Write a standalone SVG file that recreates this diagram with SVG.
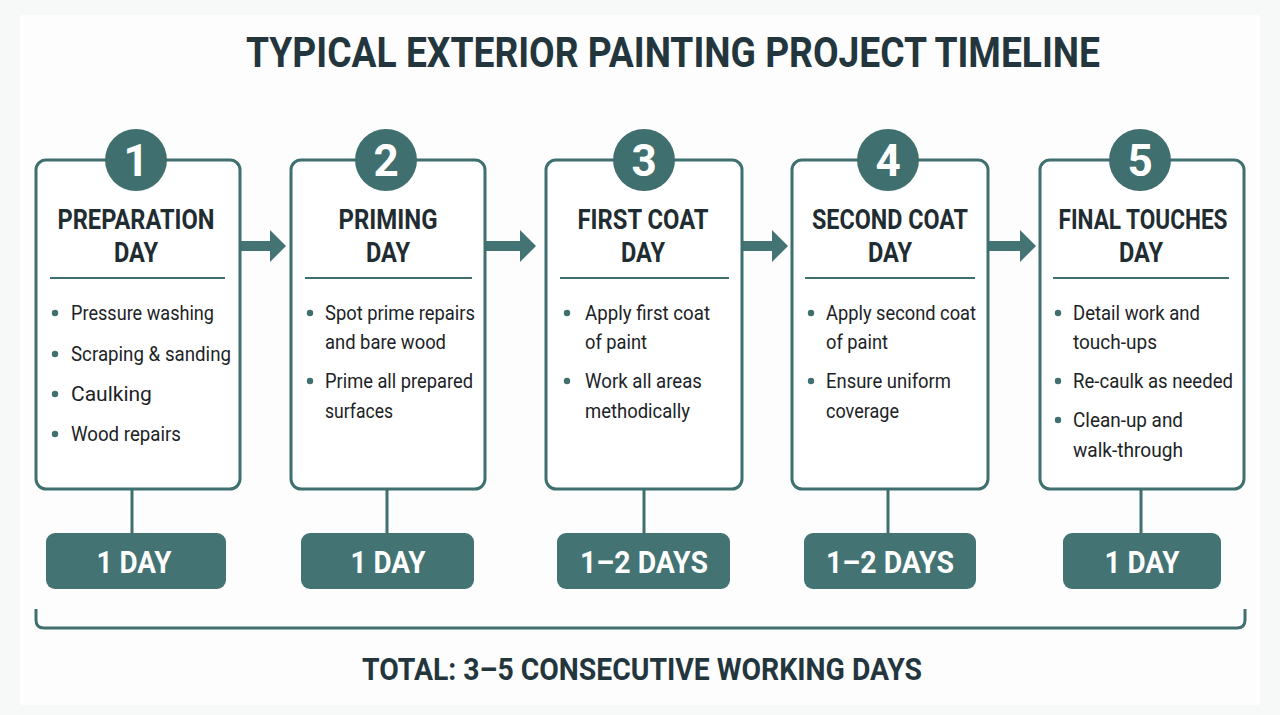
<svg xmlns="http://www.w3.org/2000/svg" width="1280" height="715" viewBox="0 0 1280 715">
<style>
.box{fill:#ffffff;stroke:#3f6f6e;stroke-width:3}
.circ{fill:#3f6f6e}
.num{font-family:Roboto,"Liberation Sans",sans-serif;font-weight:700;font-size:44px;fill:#ffffff;text-anchor:middle}
.ttl{font-family:Roboto,"Liberation Sans",sans-serif;font-weight:700;font-size:28px;fill:#1f2c31;text-anchor:middle}
.div{stroke:#3f6f6e;stroke-width:2}
.dot{fill:#3f6f6e}
.bul{font-family:Roboto,"Liberation Sans",sans-serif;font-size:21px;fill:#1c2326}
.pill{fill:#437372}
.ptx{font-family:Roboto,"Liberation Sans",sans-serif;font-weight:700;font-size:31px;fill:#ffffff;text-anchor:middle}
.con{stroke:#3f6f6e;stroke-width:3;fill:none}
.arr{fill:#437372}
.head{font-family:Roboto,"Liberation Sans",sans-serif;font-weight:700;fill:#24363d;text-anchor:middle}
</style>
<rect width="1280" height="715" fill="#f7f8f8"/>
<rect x="20" y="15" width="1240" height="690" fill="#fdfdfd"/>
<text class="head" x="673" y="67" font-size="42" textLength="854" lengthAdjust="spacingAndGlyphs">TYPICAL EXTERIOR PAINTING PROJECT TIMELINE</text>

<g id="connectors">
  <path class="arr" d="M240 241 H270 V230 L286 246 L270 262 V251 H240 Z"/>
  <path class="arr" d="M486 241 H520 V230 L536 246 L520 262 V251 H486 Z"/>
  <path class="arr" d="M742 241 H772 V230 L788 246 L772 262 V251 H742 Z"/>
  <path class="arr" d="M989 241 H1020 V230 L1036 246 L1020 262 V251 H989 Z"/>
  <line class="con" x1="132" y1="489" x2="132" y2="533"/>
  <line class="con" x1="387" y1="489" x2="387" y2="533"/>
  <line class="con" x1="644" y1="489" x2="644" y2="533"/>
  <line class="con" x1="888" y1="489" x2="888" y2="533"/>
  <line class="con" x1="1141" y1="489" x2="1141" y2="533"/>
  <path class="con" d="M36 609 V620 Q36 628 44 628 H1237 Q1245 628 1245 620 V609"/>
</g>

<g id="step1">
  <rect class="box" x="36" y="160" width="204" height="329" rx="10"/>
  <circle class="circ" cx="136" cy="160" r="31"/>
  <text class="num" x="136" y="176">1</text>
  <text class="ttl" x="136" y="229" textLength="157" lengthAdjust="spacingAndGlyphs">PREPARATION</text>
  <text class="ttl" x="136" y="262" textLength="44" lengthAdjust="spacingAndGlyphs">DAY</text>
  <line class="div" x1="50" y1="278" x2="225" y2="278"/>
  <circle class="dot" cx="55" cy="313" r="3.2"/>
  <text class="bul" x="71" y="320" textLength="143" lengthAdjust="spacingAndGlyphs">Pressure washing</text>
  <circle class="dot" cx="55" cy="354" r="3.2"/>
  <text class="bul" x="71" y="361" textLength="160" lengthAdjust="spacingAndGlyphs">Scraping &amp; sanding</text>
  <circle class="dot" cx="55" cy="394" r="3.2"/>
  <text class="bul" x="71" y="401">Caulking</text>
  <circle class="dot" cx="55" cy="434" r="3.2"/>
  <text class="bul" x="71" y="441" textLength="110" lengthAdjust="spacingAndGlyphs">Wood repairs</text>
  <rect class="pill" x="46" y="533" width="180" height="56" rx="9"/>
  <text class="ptx" x="134" y="573" textLength="75" lengthAdjust="spacingAndGlyphs">1 DAY</text>
</g>

<g id="step2">
  <rect class="box" x="291" y="160" width="194" height="329" rx="10"/>
  <circle class="circ" cx="386" cy="160" r="31"/>
  <text class="num" x="386" y="176">2</text>
  <text class="ttl" x="388" y="229" textLength="99" lengthAdjust="spacingAndGlyphs">PRIMING</text>
  <text class="ttl" x="388" y="262" textLength="44" lengthAdjust="spacingAndGlyphs">DAY</text>
  <line class="div" x1="305" y1="278" x2="472" y2="278"/>
  <circle class="dot" cx="310" cy="313" r="3.2"/>
  <text class="bul" x="325" y="320" textLength="150" lengthAdjust="spacingAndGlyphs">Spot prime repairs</text>
  <text class="bul" x="325" y="349" textLength="121" lengthAdjust="spacingAndGlyphs">and bare wood</text>
  <circle class="dot" cx="310" cy="381" r="3.2"/>
  <text class="bul" x="325" y="388" textLength="148" lengthAdjust="spacingAndGlyphs">Prime all prepared</text>
  <text class="bul" x="325" y="418" textLength="68" lengthAdjust="spacingAndGlyphs">surfaces</text>
  <rect class="pill" x="301" y="533" width="173" height="56" rx="9"/>
  <text class="ptx" x="388" y="573" textLength="75" lengthAdjust="spacingAndGlyphs">1 DAY</text>
</g>

<g id="step3">
  <rect class="box" x="546" y="160" width="196" height="329" rx="10"/>
  <circle class="circ" cx="644" cy="160" r="31"/>
  <text class="num" x="644" y="176">3</text>
  <text class="ttl" x="643" y="229" textLength="131" lengthAdjust="spacingAndGlyphs">FIRST COAT</text>
  <text class="ttl" x="643" y="262" textLength="44" lengthAdjust="spacingAndGlyphs">DAY</text>
  <line class="div" x1="560" y1="278" x2="729" y2="278"/>
  <circle class="dot" cx="567" cy="313" r="3.2"/>
  <text class="bul" x="585" y="320" textLength="125" lengthAdjust="spacingAndGlyphs">Apply first coat</text>
  <text class="bul" x="585" y="349" textLength="62" lengthAdjust="spacingAndGlyphs">of paint</text>
  <circle class="dot" cx="567" cy="381" r="3.2"/>
  <text class="bul" x="585" y="388" textLength="117" lengthAdjust="spacingAndGlyphs">Work all areas</text>
  <text class="bul" x="585" y="418" textLength="105" lengthAdjust="spacingAndGlyphs">methodically</text>
  <rect class="pill" x="557" y="533" width="173" height="56" rx="9"/>
  <text class="ptx" x="644" y="573" textLength="128" lengthAdjust="spacingAndGlyphs">1–2 DAYS</text>
</g>

<g id="step4">
  <rect class="box" x="792" y="160" width="196" height="329" rx="10"/>
  <circle class="circ" cx="888" cy="160" r="31"/>
  <text class="num" x="888" y="176">4</text>
  <text class="ttl" x="890" y="229" textLength="156" lengthAdjust="spacingAndGlyphs">SECOND COAT</text>
  <text class="ttl" x="890" y="262" textLength="44" lengthAdjust="spacingAndGlyphs">DAY</text>
  <line class="div" x1="805" y1="278" x2="975" y2="278"/>
  <circle class="dot" cx="811" cy="313" r="3.2"/>
  <text class="bul" x="826" y="320" textLength="150" lengthAdjust="spacingAndGlyphs">Apply second coat</text>
  <text class="bul" x="826" y="349" textLength="62" lengthAdjust="spacingAndGlyphs">of paint</text>
  <circle class="dot" cx="811" cy="381" r="3.2"/>
  <text class="bul" x="826" y="388" textLength="125" lengthAdjust="spacingAndGlyphs">Ensure uniform</text>
  <text class="bul" x="826" y="418" textLength="73" lengthAdjust="spacingAndGlyphs">coverage</text>
  <rect class="pill" x="804" y="533" width="172" height="56" rx="9"/>
  <text class="ptx" x="890" y="573" textLength="128" lengthAdjust="spacingAndGlyphs">1–2 DAYS</text>
</g>

<g id="step5">
  <rect class="box" x="1040" y="160" width="204" height="329" rx="10"/>
  <circle class="circ" cx="1140" cy="160" r="31"/>
  <text class="num" x="1140" y="176">5</text>
  <text class="ttl" x="1143" y="229" textLength="169" lengthAdjust="spacingAndGlyphs">FINAL TOUCHES</text>
  <text class="ttl" x="1141" y="262" textLength="44" lengthAdjust="spacingAndGlyphs">DAY</text>
  <line class="div" x1="1053" y1="278" x2="1229" y2="278"/>
  <circle class="dot" cx="1058" cy="313" r="3.2"/>
  <text class="bul" x="1073" y="320" textLength="127" lengthAdjust="spacingAndGlyphs">Detail work and</text>
  <text class="bul" x="1073" y="349" textLength="84" lengthAdjust="spacingAndGlyphs">touch-ups</text>
  <circle class="dot" cx="1058" cy="381" r="3.2"/>
  <text class="bul" x="1073" y="388" textLength="160" lengthAdjust="spacingAndGlyphs">Re-caulk as needed</text>
  <circle class="dot" cx="1058" cy="420" r="3.2"/>
  <text class="bul" x="1073" y="427" textLength="110" lengthAdjust="spacingAndGlyphs">Clean-up and</text>
  <text class="bul" x="1073" y="457" textLength="110" lengthAdjust="spacingAndGlyphs">walk-through</text>
  <rect class="pill" x="1063" y="533" width="158" height="56" rx="9"/>
  <text class="ptx" x="1142" y="573" textLength="75" lengthAdjust="spacingAndGlyphs">1 DAY</text>
</g>

<text class="head" x="642" y="680" font-size="32" textLength="560" lengthAdjust="spacingAndGlyphs">TOTAL: 3–5 CONSECUTIVE WORKING DAYS</text>
</svg>
